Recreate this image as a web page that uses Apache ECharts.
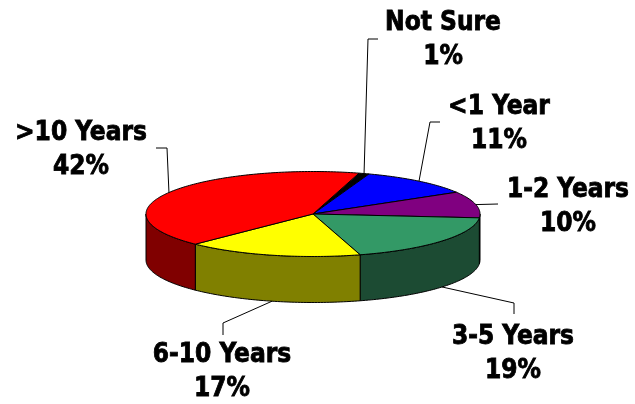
<!DOCTYPE html>
<html>
<head>
<meta charset="utf-8">
<script src="https://cdn.jsdelivr.net/npm/echarts@6/dist/echarts.min.js"></script>
<style>
  html, body { margin: 0; padding: 0; background: #fff; }
  #main { width: 635px; height: 404px; }
</style>
</head>
<body>
<div id="main"></div>
<script>
// slices, clockwise from just right of 12 o'clock
const categories = ['Not Sure', '<1 Year', '1-2 Years', '3-5 Years', '6-10 Years', '>10 Years']
const percents = [1, 11, 10, 19, 17, 42]

const topColors = ['#000000', '#0000FF', '#800080', '#339966', '#FFFF00', '#FF0000']
const sideColors = ['#000000', '#000080', '#400040', '#1C4B33', '#808000', '#800000']

// where each label sits and how its leader line bends (text centre, then elbow points)
const labelLayout = [
  { x: 443, y: 40, line: [[368, 39], [378, 39]] },
  { x: 499, y: 124, line: [[430, 122], [440, 122]] },
  { x: 568, y: 207, line: [[498, 204]] },
  { x: 513, y: 354, line: [[514, 303], [514, 314]] },
  { x: 222, y: 372, line: [[223, 323], [223, 335]] },
  { x: 81, y: 150, line: [[167, 148], [156, 148]] }
]

// pie geometry (ellipse of the tilted top face)
const cx = 313, cy = 214, rx = 167, ry = 42.5, depth = 46
const startDeg = 16

const total = percents.reduce((s, v) => s + v, 0)
const starts = []
let acc = startDeg
percents.forEach(v => { starts.push(acc); acc += v / total * 360 })

function pt (deg, dy) {
  const r = deg * Math.PI / 180
  return [cx + rx * Math.sin(r), cy - ry * Math.cos(r) + dy]
}

function arc (a, b, dy) {
  const pts = []
  const n = Math.max(2, Math.ceil(Math.abs(b - a)))
  for (let k = 0; k <= n; k++) pts.push(pt(a + (b - a) * k / n, dy))
  return pts
}

const chart = echarts.init(document.getElementById('main'))

chart.setOption({
  backgroundColor: '#fff',
  animation: false,
  series: [{
    type: 'custom',
    coordinateSystem: 'none',
    data: percents,
    renderItem: function (params, api) {
      const i = params.dataIndex
      const a = starts[i]
      const b = a + api.value(0) / total * 360
      const children = []

      // visible outer wall = part of the arc on the front half
      ;[[90, 270], [450, 630]].forEach(r => {
        const s = Math.max(a, r[0]), e = Math.min(b, r[1])
        if (e > s) {
          const pts = arc(s, e, 0).concat(arc(e, s, depth))
          children.push({
            type: 'polygon',
            shape: { points: pts },
            style: { fill: sideColors[i], stroke: '#000', lineWidth: 1 }
          })
        }
      })

      children.push({
        type: 'polygon',
        shape: { points: [[cx, cy]].concat(arc(a, b, 0)) },
        style: { fill: topColors[i], stroke: '#000', lineWidth: 1 }
      })

      // leader line from slice middle
      const mid = (a + b) / 2
      const m = ((mid % 360) + 360) % 360
      const anchor = pt(mid, (m > 90 && m < 270) ? depth : 0)
      const lay = labelLayout[i]
      children.push({
        type: 'polyline',
        shape: { points: [anchor].concat(lay.line) },
        style: { stroke: '#000', lineWidth: 1, fill: null }
      })
      children.push({
        type: 'text',
        x: lay.x,
        y: lay.y,
        style: {
          text: categories[i] + '\n' + api.value(0) + '%',
          fill: '#000',
          stroke: '#000',
          lineWidth: 0.8,
          font: 'bold 26px "DejaVu Sans Condensed", "DejaVu Sans", sans-serif',
          align: 'center',
          verticalAlign: 'middle',
          lineHeight: 34
        }
      })
      return { type: 'group', children: children }
    }
  }]
})
</script>
</body>
</html>
